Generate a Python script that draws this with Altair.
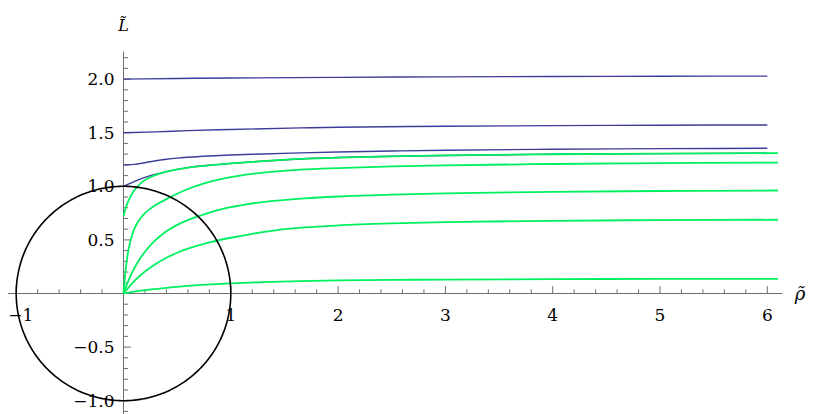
import altair as alt
import pandas as pd
import numpy as np

# ---------------- data ----------------
blue_20_x = [0, 0.5, 1, 2, 3, 4, 5, 6]
blue_20_y = [2.0, 2.006, 2.010, 2.016, 2.021, 2.024, 2.027, 2.028]

blue_15_x = [0, 0.3, 0.6, 1.0, 1.65, 2, 3, 4, 5, 6]
blue_15_y = [1.5, 1.508, 1.519, 1.530, 1.545, 1.551, 1.560, 1.566, 1.570, 1.572]

blue_12_x = [0, 0.05, 0.1, 0.15, 0.2, 0.3, 0.4, 0.5, 0.6, 0.8, 1.0, 1.2, 1.65, 2, 2.5, 3, 4, 5, 6]
blue_12_y = [1.2, 1.201, 1.205, 1.212, 1.22, 1.238, 1.252, 1.263, 1.271, 1.283, 1.292, 1.299, 1.312, 1.32, 1.329, 1.336, 1.346, 1.351, 1.355]

blue_10_x = [0, 0.05, 0.1, 0.15, 0.2, 0.25, 0.3, 0.4, 0.5, 0.6, 0.8, 1.0, 1.2, 1.65, 2, 2.5, 3, 4, 5, 6]
blue_10_y = [1.0, 1.022, 1.044, 1.065, 1.083, 1.099, 1.112, 1.137, 1.158, 1.174, 1.196, 1.213, 1.228, 1.255, 1.268, 1.28, 1.288, 1.299, 1.305, 1.308]

green_1_x = [0, 0.01, 0.02, 0.04, 0.06, 0.08, 0.1, 0.13, 0.16, 0.2, 0.25, 0.3, 0.4, 0.5, 0.6, 0.8, 1.0, 1.2, 1.65, 2, 2.5, 3, 4, 5, 6.1]
green_1_y = [0.72, 0.76, 0.795, 0.85, 0.895, 0.93, 0.96, 0.998, 1.028, 1.058, 1.085, 1.106, 1.137, 1.158, 1.174, 1.196, 1.213, 1.228, 1.255, 1.268, 1.28, 1.288, 1.299, 1.305, 1.309]

green_2_x = [0, 0.01, 0.02, 0.04, 0.06, 0.08, 0.1, 0.13, 0.16, 0.2, 0.25, 0.3, 0.4, 0.5, 0.6, 0.76, 1.0, 1.2, 1.65, 2, 2.5, 3, 4, 5, 6.1]
green_2_y = [0, 0.12, 0.22, 0.37, 0.47, 0.545, 0.6, 0.66, 0.705, 0.75, 0.79, 0.825, 0.88, 0.93, 0.975, 1.03, 1.085, 1.116, 1.155, 1.17, 1.185, 1.195, 1.208, 1.216, 1.221]

green_3_x = [0, 0.02, 0.05, 0.1, 0.15, 0.2, 0.3, 0.4, 0.5, 0.6, 0.68, 0.8, 1.0, 1.3, 1.69, 2, 2.5, 3, 4, 5, 6.1]
green_3_y = [0, 0.055, 0.13, 0.235, 0.32, 0.39, 0.5, 0.58, 0.64, 0.685, 0.715, 0.755, 0.805, 0.853, 0.888, 0.905, 0.922, 0.934, 0.948, 0.956, 0.961]

green_4_x = [0, 0.05, 0.1, 0.2, 0.3, 0.4, 0.5, 0.6, 0.7, 0.8, 1.0, 1.2, 1.4, 1.69, 2, 2.5, 3, 4, 5, 6.1]
green_4_y = [0, 0.06, 0.115, 0.205, 0.275, 0.333, 0.38, 0.418, 0.449, 0.476, 0.52, 0.557, 0.587, 0.616, 0.635, 0.654, 0.666, 0.678, 0.685, 0.688]

green_5_x = [0, 0.1, 0.2, 0.4, 0.665, 1.0, 1.3, 1.65, 2, 2.5, 3, 4, 5, 6.1]
green_5_y = [0, 0.017, 0.031, 0.053, 0.075, 0.094, 0.106, 0.116, 0.122, 0.127, 0.130, 0.134, 0.136, 0.137]

circle_radius = 1.0

x_tick_labels = ["1", "2", "3", "4", "5", "6"]
x_tick_values = [1, 2, 3, 4, 5, 6]
x_edge_label = "\u22121"
x_edge_value = -1
y_tick_labels = ["\u22121.0", "\u22120.5", "0.5", "1.0", "1.5", "2.0"]
y_tick_values = [-1.0, -0.5, 0.5, 1.0, 1.5, 2.0]

x_title = "\u03c1\u0303"
y_title = "L\u0303"

# ---------------- layout ----------------
SX, SY = 107.3, 107.2          # px per unit
W, H = 800, 406
XMIN = -(123.5 - 8) / SX
XMAX = XMIN + W / SX
YMAX = (293.5 - 8) / SY
YMIN = YMAX - H / SY
X_AXIS_END = 6.14
Y_AXIS_END = 2.256

BLUE = "#3d3d99"
GREEN = "#00f060"
AXIS = "#6e6e6e"
FONT = "DejaVu Serif"

xs = alt.Scale(domain=[XMIN, XMAX], nice=False, zero=False)
ys = alt.Scale(domain=[YMIN, YMAX], nice=False, zero=False)


def X(f):
    return alt.X(f, type="quantitative", scale=xs, axis=None)


def Y(f):
    return alt.Y(f, type="quantitative", scale=ys, axis=None)


def curves(pairs):
    rows = []
    for name, xv, yv in pairs:
        for a, b in zip(xv, yv):
            rows.append({"x": a, "y": b, "c": name})
    return pd.DataFrame(rows)


blue_df = curves([("b20", blue_20_x, blue_20_y), ("b15", blue_15_x, blue_15_y),
                  ("b12", blue_12_x, blue_12_y), ("b10", blue_10_x, blue_10_y)])
green_df = curves([("g1", green_1_x, green_1_y), ("g2", green_2_x, green_2_y),
                   ("g3", green_3_x, green_3_y), ("g4", green_4_x, green_4_y),
                   ("g5", green_5_x, green_5_y)])

ang = np.linspace(0, 2 * np.pi, 361)
circle_df = pd.DataFrame({"x": circle_radius * np.cos(ang),
                          "y": circle_radius * np.sin(ang),
                          "i": np.arange(361)})

# ticks
x_minor = [round(k * 0.2, 1) for k in range(-5, 31) if k % 5 != 0]
y_minor = [round(k * 0.1, 1) for k in range(-11, 23) if k % 5 != 0]

xmaj_df = pd.DataFrame({"t": [x_edge_value] + x_tick_values, "z": 0})
xlab_df = pd.DataFrame({"t": x_tick_values, "z": 0, "lab": x_tick_labels})
xedge_df = pd.DataFrame({"t": [x_edge_value], "z": 0, "lab": [x_edge_label]})
xmin_df = pd.DataFrame({"t": x_minor, "z": 0})
ymaj_df = pd.DataFrame({"t": y_tick_values, "z": 0, "lab": y_tick_labels})
ymin_df = pd.DataFrame({"t": y_minor, "z": 0})

xaxis_df = pd.DataFrame({"x": [XMIN], "x2": [X_AXIS_END], "y": [0]})
yaxis_df = pd.DataFrame({"y": [YMIN], "y2": [Y_AXIS_END], "x": [0]})

xaxis = alt.Chart(xaxis_df).mark_rule(color=AXIS, strokeWidth=1).encode(
    x=X("x"), x2="x2", y=Y("y"))
yaxis = alt.Chart(yaxis_df).mark_rule(color=AXIS, strokeWidth=1).encode(
    y=Y("y"), y2="y2", x=X("x"))

xmaj = alt.Chart(xmaj_df).mark_rule(color=AXIS, strokeWidth=1, y2Offset=-7.5).encode(
    x=X("t"), y=Y("z"), y2="z")
xmin_t = alt.Chart(xmin_df).mark_rule(color=AXIS, strokeWidth=1, y2Offset=-4.2).encode(
    x=X("t"), y=Y("z"), y2="z")
ymaj = alt.Chart(ymaj_df).mark_rule(color=AXIS, strokeWidth=1, x2Offset=7.5).encode(
    y=Y("t"), x=X("z"), x2="z")
ymin_t = alt.Chart(ymin_df).mark_rule(color=AXIS, strokeWidth=1, x2Offset=4.5).encode(
    y=Y("t"), x=X("z"), x2="z")

xlab = alt.Chart(xlab_df).mark_text(font=FONT, fontSize=17, baseline="middle",
                                    align="center", dy=22, color="black").encode(
    x=X("t"), y=Y("z"), text="lab")
xedge = alt.Chart(xedge_df).mark_text(font=FONT, fontSize=17, baseline="middle",
                                      align="left", dx=-8, dy=22, color="black").encode(
    x=X("t"), y=Y("z"), text="lab")
ylab = alt.Chart(ymaj_df).mark_text(font=FONT, fontSize=17, baseline="middle",
                                    align="right", dx=-9, dy=1, color="black").encode(
    y=Y("t"), x=X("z"), text="lab")

titles_df = pd.DataFrame({"x": [6.305, 0.0], "y": [0.0, 2.5], "lab": [x_title, y_title],
                          "d": [1, 0]})
xtitle = alt.Chart(titles_df.iloc[[0]]).mark_text(font=FONT, fontSize=18,
                                                  fontStyle="italic", dy=1,
                                                  baseline="middle", align="center",
                                                  color="black").encode(
    x=X("x"), y=Y("y"), text="lab")
ytitle = alt.Chart(titles_df.iloc[[1]]).mark_text(font=FONT, fontSize=16,
                                                  fontStyle="italic",
                                                  baseline="middle", align="center",
                                                  color="black").encode(
    x=X("x"), y=Y("y"), text="lab")

blue = alt.Chart(blue_df).mark_line(color=BLUE, strokeWidth=1.4,
                                    interpolate="monotone").encode(
    x=X("x"), y=Y("y"), detail="c:N")
green = alt.Chart(green_df).mark_line(color=GREEN, strokeWidth=1.8,
                                      interpolate="monotone").encode(
    x=X("x"), y=Y("y"), detail="c:N")
circle = alt.Chart(circle_df).mark_line(color="black", strokeWidth=1.6).encode(
    x=X("x"), y=Y("y"), order="i:Q")

chart = alt.layer(
    xaxis, yaxis, xmin_t, xmaj, ymin_t, ymaj, xlab, xedge, ylab, xtitle, ytitle,
    blue, green, circle
).properties(
    width=W, height=H, padding=0,
    autosize=alt.AutoSizeParams(type="none")
).configure_view(stroke=None)

chart.save("out.html", embed_options={"renderer": "svg", "actions": False})
